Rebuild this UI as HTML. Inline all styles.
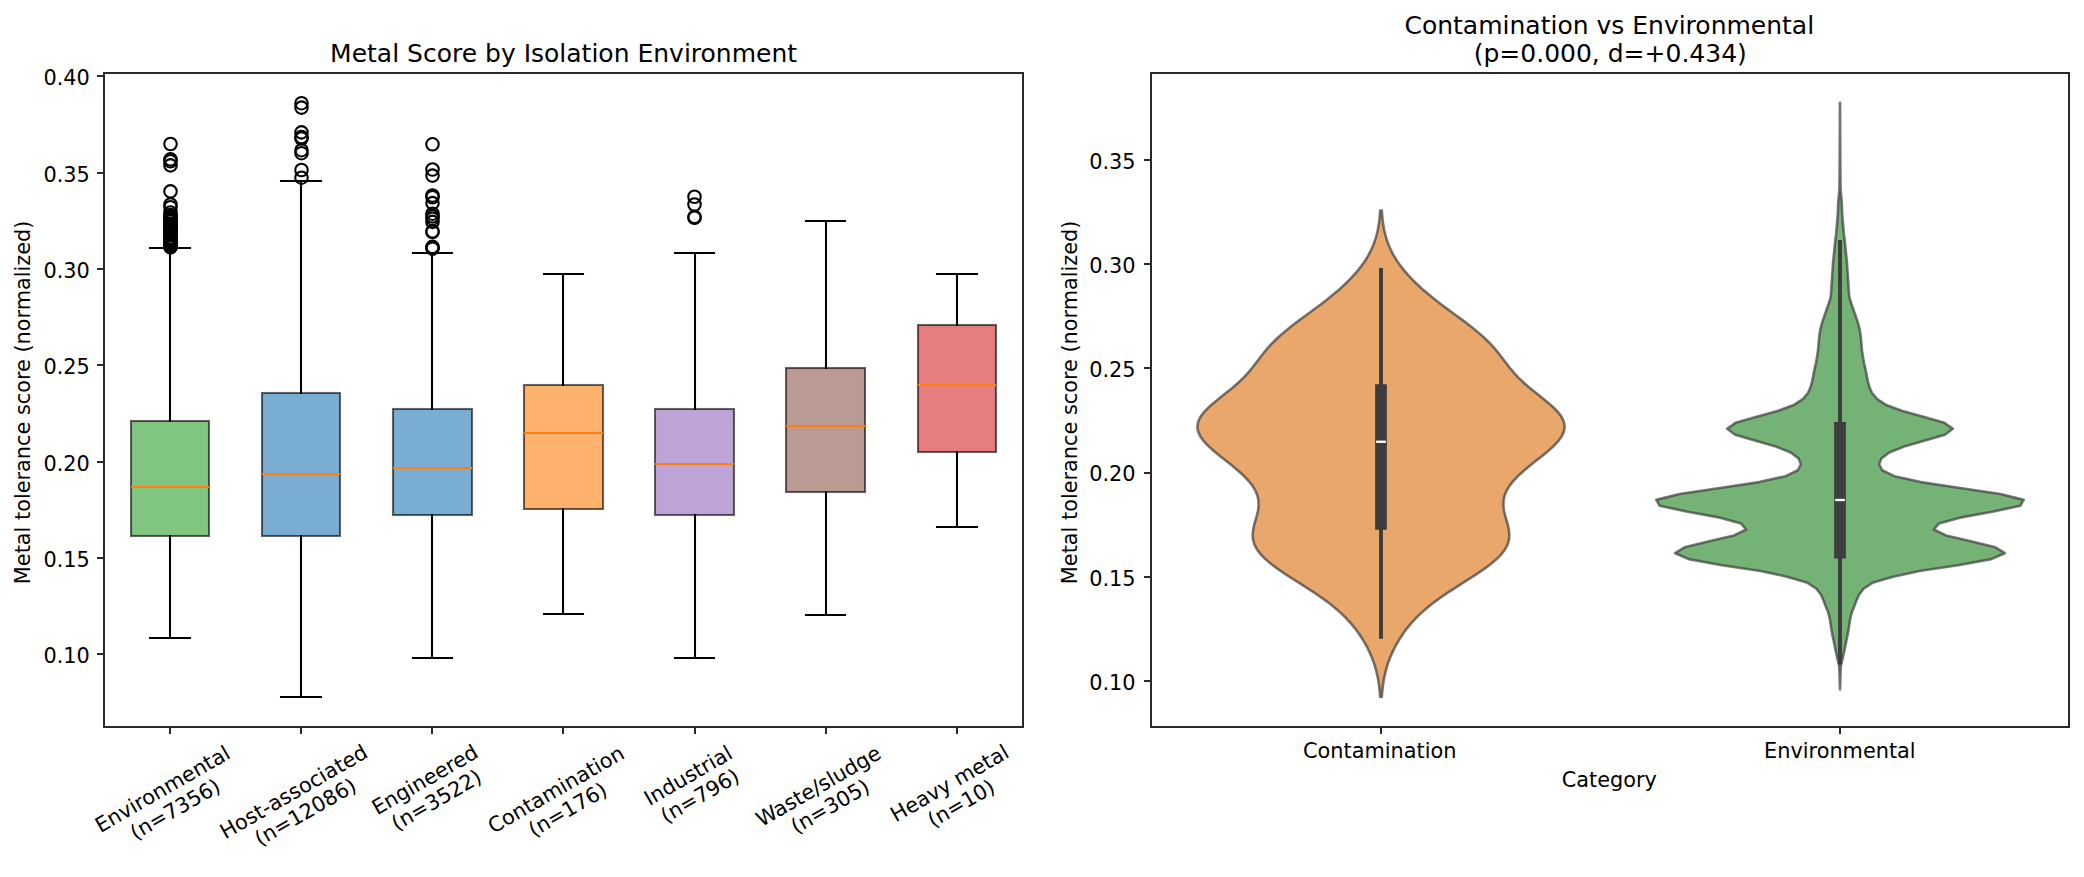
<!DOCTYPE html>
<html lang="en"><head><meta charset="utf-8"><title>Metal Score by Isolation Environment</title>
<style>html,body{margin:0;padding:0;background:#fff}svg{display:block}text{font-family:"DejaVu Sans","Liberation Sans",sans-serif;fill:#000}</style></head>
<body>
<svg width="2084" height="877" viewBox="0 0 2084 877">
<rect x="0" y="0" width="2084" height="877" fill="#fff"/>
<g id="left-axes">
<rect x="131" y="421" width="78" height="115" fill="#2ca02c" fill-opacity="0.6" stroke="#000" stroke-opacity="0.6" stroke-width="2.08"/>
<rect x="168.96" y="247" width="2.08" height="175" fill="#000"/>
<rect x="168.96" y="535" width="2.08" height="104" fill="#000"/>
<rect x="148.96" y="247" width="42.08" height="2" fill="#000"/>
<rect x="148.96" y="637" width="42.08" height="2" fill="#000"/>
<rect x="131" y="486" width="78" height="2" fill="#ff7f0e"/>
<g fill="none" stroke="#000" stroke-width="2.08"><circle cx="170.5" cy="144.00" r="6.25"/><circle cx="170.5" cy="159.40" r="6.25"/><circle cx="170.5" cy="161.30" r="6.25"/><circle cx="170.5" cy="165.40" r="6.25"/><circle cx="170.5" cy="191.40" r="6.25"/><circle cx="170.5" cy="204.50" r="6.25"/><circle cx="170.5" cy="207.20" r="6.25"/><circle cx="170.5" cy="212.50" r="6.25"/><circle cx="170.5" cy="215.00" r="6.25"/><circle cx="170.5" cy="216.07" r="6.25"/><circle cx="170.5" cy="217.14" r="6.25"/><circle cx="170.5" cy="218.21" r="6.25"/><circle cx="170.5" cy="219.28" r="6.25"/><circle cx="170.5" cy="220.35" r="6.25"/><circle cx="170.5" cy="221.42" r="6.25"/><circle cx="170.5" cy="223.90" r="6.25"/><circle cx="170.5" cy="225.00" r="6.25"/><circle cx="170.5" cy="226.10" r="6.25"/><circle cx="170.5" cy="227.20" r="6.25"/><circle cx="170.5" cy="228.30" r="6.25"/><circle cx="170.5" cy="229.40" r="6.25"/><circle cx="170.5" cy="230.50" r="6.25"/><circle cx="170.5" cy="231.60" r="6.25"/><circle cx="170.5" cy="232.70" r="6.25"/><circle cx="170.5" cy="233.80" r="6.25"/><circle cx="170.5" cy="234.90" r="6.25"/><circle cx="170.5" cy="237.50" r="6.25"/><circle cx="170.5" cy="238.60" r="6.25"/><circle cx="170.5" cy="239.70" r="6.25"/><circle cx="170.5" cy="240.80" r="6.25"/><circle cx="170.5" cy="241.90" r="6.25"/><circle cx="170.5" cy="243.00" r="6.25"/><circle cx="170.5" cy="244.10" r="6.25"/><circle cx="170.5" cy="245.20" r="6.25"/><circle cx="170.5" cy="246.30" r="6.25"/><circle cx="170.5" cy="247.40" r="6.25"/></g>
<rect x="262" y="393" width="78" height="143" fill="#1f77b4" fill-opacity="0.6" stroke="#000" stroke-opacity="0.6" stroke-width="2.08"/>
<rect x="299.96" y="180" width="2.08" height="214" fill="#000"/>
<rect x="299.96" y="535" width="2.08" height="163" fill="#000"/>
<rect x="279.96" y="180" width="42.08" height="2" fill="#000"/>
<rect x="279.96" y="696" width="42.08" height="2" fill="#000"/>
<rect x="262" y="473" width="78" height="2" fill="#ff7f0e"/>
<g fill="none" stroke="#000" stroke-width="2.08"><circle cx="301.5" cy="103.20" r="6.25"/><circle cx="301.5" cy="107.60" r="6.25"/><circle cx="301.5" cy="132.40" r="6.25"/><circle cx="301.5" cy="137.00" r="6.25"/><circle cx="301.5" cy="138.50" r="6.25"/><circle cx="301.5" cy="150.20" r="6.25"/><circle cx="301.5" cy="153.20" r="6.25"/><circle cx="301.5" cy="170.00" r="6.25"/><circle cx="301.5" cy="177.70" r="6.25"/></g>
<rect x="393" y="409" width="79" height="106" fill="#1f77b4" fill-opacity="0.6" stroke="#000" stroke-opacity="0.6" stroke-width="2.08"/>
<rect x="430.96" y="252" width="2.08" height="158" fill="#000"/>
<rect x="430.96" y="514" width="2.08" height="145" fill="#000"/>
<rect x="411.96" y="252" width="41.08" height="2" fill="#000"/>
<rect x="411.96" y="657" width="41.08" height="2" fill="#000"/>
<rect x="393" y="467" width="79" height="2" fill="#ff7f0e"/>
<g fill="none" stroke="#000" stroke-width="2.08"><circle cx="432.5" cy="144.30" r="6.25"/><circle cx="432.5" cy="169.50" r="6.25"/><circle cx="432.5" cy="175.60" r="6.25"/><circle cx="432.5" cy="195.50" r="6.25"/><circle cx="432.5" cy="197.30" r="6.25"/><circle cx="432.5" cy="203.10" r="6.25"/><circle cx="432.5" cy="213.70" r="6.25"/><circle cx="432.5" cy="216.40" r="6.25"/><circle cx="432.5" cy="218.70" r="6.25"/><circle cx="432.5" cy="221.90" r="6.25"/><circle cx="432.5" cy="231.20" r="6.25"/><circle cx="432.5" cy="232.00" r="6.25"/><circle cx="432.5" cy="246.80" r="6.25"/><circle cx="432.5" cy="247.60" r="6.25"/><circle cx="432.5" cy="248.60" r="6.25"/></g>
<rect x="524" y="385" width="79" height="124" fill="#ff7f0e" fill-opacity="0.6" stroke="#000" stroke-opacity="0.6" stroke-width="2.08"/>
<rect x="561.96" y="273" width="2.08" height="113" fill="#000"/>
<rect x="561.96" y="508" width="2.08" height="107" fill="#000"/>
<rect x="542.96" y="273" width="41.08" height="2" fill="#000"/>
<rect x="542.96" y="613" width="41.08" height="2" fill="#000"/>
<rect x="524" y="432" width="79" height="2" fill="#ff7f0e"/>
<rect x="655" y="409" width="79" height="106" fill="#9467bd" fill-opacity="0.6" stroke="#000" stroke-opacity="0.6" stroke-width="2.08"/>
<rect x="693.96" y="252" width="2.08" height="158" fill="#000"/>
<rect x="693.96" y="514" width="2.08" height="145" fill="#000"/>
<rect x="673.96" y="252" width="41.08" height="2" fill="#000"/>
<rect x="673.96" y="657" width="41.08" height="2" fill="#000"/>
<rect x="655" y="463" width="79" height="2" fill="#ff7f0e"/>
<g fill="none" stroke="#000" stroke-width="2.08"><circle cx="694.5" cy="196.75" r="6.25"/><circle cx="694.5" cy="204.50" r="6.25"/><circle cx="694.5" cy="216.80" r="6.25"/><circle cx="694.5" cy="217.80" r="6.25"/></g>
<rect x="786" y="368" width="79" height="124" fill="#8c564b" fill-opacity="0.6" stroke="#000" stroke-opacity="0.6" stroke-width="2.08"/>
<rect x="824.96" y="220" width="2.08" height="149" fill="#000"/>
<rect x="824.96" y="491" width="2.08" height="125" fill="#000"/>
<rect x="804.96" y="220" width="41.08" height="2" fill="#000"/>
<rect x="804.96" y="614" width="41.08" height="2" fill="#000"/>
<rect x="786" y="425" width="79" height="2" fill="#ff7f0e"/>
<rect x="918" y="325" width="78" height="127" fill="#d62728" fill-opacity="0.6" stroke="#000" stroke-opacity="0.6" stroke-width="2.08"/>
<rect x="955.96" y="273" width="2.08" height="53" fill="#000"/>
<rect x="955.96" y="451" width="2.08" height="77" fill="#000"/>
<rect x="935.96" y="273" width="42.08" height="2" fill="#000"/>
<rect x="935.96" y="526" width="42.08" height="2" fill="#000"/>
<rect x="918" y="384" width="78" height="2" fill="#ff7f0e"/>
<rect x="104" y="73" width="919" height="654" fill="none" stroke="#2a2a2a" stroke-width="2"/>
<rect x="169" y="727" width="2" height="7" fill="#2a2a2a"/><rect x="300" y="727" width="2" height="7" fill="#2a2a2a"/><rect x="431" y="727" width="2" height="7" fill="#2a2a2a"/><rect x="562" y="727" width="2" height="7" fill="#2a2a2a"/><rect x="694" y="727" width="2" height="7" fill="#2a2a2a"/><rect x="825" y="727" width="2" height="7" fill="#2a2a2a"/><rect x="956" y="727" width="2" height="7" fill="#2a2a2a"/><rect x="97" y="75" width="7" height="2" fill="#2a2a2a"/><rect x="97" y="172" width="7" height="2" fill="#2a2a2a"/><rect x="97" y="268" width="7" height="2" fill="#2a2a2a"/><rect x="97" y="364" width="7" height="2" fill="#2a2a2a"/><rect x="97" y="461" width="7" height="2" fill="#2a2a2a"/><rect x="97" y="557" width="7" height="2" fill="#2a2a2a"/><rect x="97" y="653" width="7" height="2" fill="#2a2a2a"/>
</g>
<g id="right-axes">
<path d="M1380.23 210.60 L1379.86 215.51 L1379.34 220.42 L1378.65 225.33 L1377.75 230.25 L1376.59 235.16 L1375.13 240.07 L1373.34 244.98 L1371.19 249.89 L1368.66 254.80 L1365.73 259.72 L1362.39 264.63 L1358.63 269.54 L1354.47 274.45 L1349.89 279.36 L1344.91 284.27 L1339.55 289.19 L1333.82 294.10 L1327.76 299.01 L1321.41 303.92 L1314.85 308.83 L1308.17 313.74 L1301.48 318.66 L1294.91 323.57 L1288.60 328.48 L1282.65 333.39 L1277.16 338.30 L1272.17 343.21 L1267.68 348.13 L1263.60 353.04 L1259.80 357.95 L1256.10 362.86 L1252.28 367.77 L1248.17 372.68 L1243.60 377.59 L1238.49 382.51 L1232.87 387.42 L1226.84 392.33 L1220.64 397.24 L1214.55 402.15 L1208.93 407.06 L1204.12 411.98 L1200.45 416.89 L1198.14 421.80 L1197.37 426.71 L1198.15 431.62 L1200.41 436.53 L1204.00 441.45 L1208.68 446.36 L1214.16 451.27 L1220.15 456.18 L1226.37 461.09 L1232.54 466.00 L1238.42 470.92 L1243.79 475.83 L1248.50 480.74 L1252.39 485.65 L1255.37 490.56 L1257.39 495.47 L1258.45 500.39 L1258.63 505.30 L1258.07 510.21 L1256.96 515.12 L1255.56 520.03 L1254.18 524.94 L1253.11 529.86 L1252.65 534.77 L1253.03 539.68 L1254.46 544.59 L1257.03 549.50 L1260.76 554.41 L1265.61 559.32 L1271.44 564.24 L1278.08 569.15 L1285.32 574.06 L1292.94 578.97 L1300.70 583.88 L1308.40 588.79 L1315.87 593.71 L1322.96 598.62 L1329.58 603.53 L1335.68 608.44 L1341.22 613.35 L1346.24 618.26 L1350.75 623.18 L1354.80 628.09 L1358.46 633.00 L1361.75 637.91 L1364.72 642.82 L1367.39 647.73 L1369.77 652.65 L1371.88 657.56 L1373.73 662.47 L1375.31 667.38 L1376.63 672.29 L1377.72 677.20 L1378.60 682.12 L1379.28 687.03 L1379.80 691.94 L1380.18 696.85 L1381.82 696.85 L1382.20 691.94 L1382.72 687.03 L1383.40 682.12 L1384.28 677.20 L1385.37 672.29 L1386.69 667.38 L1388.27 662.47 L1390.12 657.56 L1392.23 652.65 L1394.61 647.73 L1397.28 642.82 L1400.25 637.91 L1403.54 633.00 L1407.20 628.09 L1411.25 623.18 L1415.76 618.26 L1420.78 613.35 L1426.32 608.44 L1432.42 603.53 L1439.04 598.62 L1446.13 593.71 L1453.60 588.79 L1461.30 583.88 L1469.06 578.97 L1476.68 574.06 L1483.92 569.15 L1490.56 564.24 L1496.39 559.32 L1501.24 554.41 L1504.97 549.50 L1507.54 544.59 L1508.97 539.68 L1509.35 534.77 L1508.89 529.86 L1507.82 524.94 L1506.44 520.03 L1505.04 515.12 L1503.93 510.21 L1503.37 505.30 L1503.55 500.39 L1504.61 495.47 L1506.63 490.56 L1509.61 485.65 L1513.50 480.74 L1518.21 475.83 L1523.58 470.92 L1529.46 466.00 L1535.63 461.09 L1541.85 456.18 L1547.84 451.27 L1553.32 446.36 L1558.00 441.45 L1561.59 436.53 L1563.85 431.62 L1564.63 426.71 L1563.86 421.80 L1561.55 416.89 L1557.88 411.98 L1553.07 407.06 L1547.45 402.15 L1541.36 397.24 L1535.16 392.33 L1529.13 387.42 L1523.51 382.51 L1518.40 377.59 L1513.83 372.68 L1509.72 367.77 L1505.90 362.86 L1502.20 357.95 L1498.40 353.04 L1494.32 348.13 L1489.83 343.21 L1484.84 338.30 L1479.35 333.39 L1473.40 328.48 L1467.09 323.57 L1460.52 318.66 L1453.83 313.74 L1447.15 308.83 L1440.59 303.92 L1434.24 299.01 L1428.18 294.10 L1422.45 289.19 L1417.09 284.27 L1412.11 279.36 L1407.53 274.45 L1403.37 269.54 L1399.61 264.63 L1396.27 259.72 L1393.34 254.80 L1390.81 249.89 L1388.66 244.98 L1386.87 240.07 L1385.41 235.16 L1384.25 230.25 L1383.35 225.33 L1382.66 220.42 L1382.14 215.51 L1381.77 210.60 Z" fill="#e1812c" fill-opacity="0.7" stroke="#3d3d3d" stroke-opacity="0.7" stroke-width="2.6" stroke-linejoin="round"/>
<path d="M1839.95 102.83 L1839.93 108.76 L1839.91 114.68 L1839.89 120.61 L1839.86 126.53 L1839.84 132.46 L1839.81 138.39 L1839.79 144.31 L1839.76 150.24 L1839.72 156.16 L1839.69 162.09 L1839.65 168.02 L1839.61 173.94 L1839.56 179.87 L1839.48 185.79 L1839.32 191.72 L1838.67 197.65 L1838.17 203.57 L1837.97 209.50 L1837.70 215.42 L1837.22 221.35 L1836.71 227.28 L1836.23 233.20 L1835.43 239.13 L1834.79 245.05 L1834.26 250.98 L1833.65 256.91 L1833.04 262.83 L1832.68 268.76 L1832.26 274.68 L1831.85 280.61 L1831.48 286.54 L1831.18 292.46 L1830.40 298.39 L1828.40 304.31 L1826.40 310.24 L1824.30 316.17 L1822.30 322.09 L1820.60 328.02 L1819.60 333.94 L1818.90 339.87 L1818.50 345.80 L1817.80 351.72 L1816.90 357.65 L1815.80 363.57 L1814.50 369.50 L1813.25 375.43 L1812.20 381.35 L1810.50 387.28 L1807.90 393.20 L1802.80 399.13 L1793.70 405.06 L1777.46 410.98 L1755.76 416.91 L1735.59 422.83 L1727.11 428.76 L1735.17 434.69 L1754.83 440.61 L1775.84 446.54 L1790.80 452.46 L1798.53 458.39 L1800.89 464.32 L1797.85 470.24 L1785.53 476.17 L1759.15 482.09 L1719.89 488.02 L1679.62 493.95 L1656.29 499.87 L1659.78 505.80 L1687.69 511.72 L1720.12 517.65 L1741.15 523.58 L1746.13 529.50 L1734.05 535.43 L1709.17 541.35 L1684.56 547.28 L1675.14 553.21 L1688.85 559.13 L1720.49 565.06 L1760.46 570.98 L1788.00 576.91 L1807.50 582.84 L1816.50 588.76 L1821.00 594.69 L1823.60 600.61 L1825.80 606.54 L1828.30 612.47 L1829.70 618.39 L1830.70 624.32 L1831.55 630.24 L1832.70 636.17 L1833.90 642.10 L1835.10 648.02 L1836.40 653.95 L1837.75 659.87 L1839.15 665.80 L1839.50 671.73 L1839.65 677.65 L1839.80 683.58 L1839.95 689.50 L1840.05 689.50 L1840.20 683.58 L1840.35 677.65 L1840.50 671.73 L1840.85 665.80 L1842.25 659.87 L1843.60 653.95 L1844.90 648.02 L1846.10 642.10 L1847.30 636.17 L1848.45 630.24 L1849.30 624.32 L1850.30 618.39 L1851.70 612.47 L1854.20 606.54 L1856.40 600.61 L1859.00 594.69 L1863.50 588.76 L1872.50 582.84 L1892.00 576.91 L1919.54 570.98 L1959.51 565.06 L1991.15 559.13 L2004.86 553.21 L1995.44 547.28 L1970.83 541.35 L1945.95 535.43 L1933.87 529.50 L1938.85 523.58 L1959.88 517.65 L1992.31 511.72 L2020.22 505.80 L2023.71 499.87 L2000.38 493.95 L1960.11 488.02 L1920.85 482.09 L1894.47 476.17 L1882.15 470.24 L1879.11 464.32 L1881.47 458.39 L1889.20 452.46 L1904.16 446.54 L1925.17 440.61 L1944.83 434.69 L1952.89 428.76 L1944.41 422.83 L1924.24 416.91 L1902.54 410.98 L1886.30 405.06 L1877.20 399.13 L1872.10 393.20 L1869.50 387.28 L1867.80 381.35 L1866.75 375.43 L1865.50 369.50 L1864.20 363.57 L1863.10 357.65 L1862.20 351.72 L1861.50 345.80 L1861.10 339.87 L1860.40 333.94 L1859.40 328.02 L1857.70 322.09 L1855.70 316.17 L1853.60 310.24 L1851.60 304.31 L1849.60 298.39 L1848.82 292.46 L1848.52 286.54 L1848.15 280.61 L1847.74 274.68 L1847.32 268.76 L1846.96 262.83 L1846.35 256.91 L1845.74 250.98 L1845.21 245.05 L1844.57 239.13 L1843.77 233.20 L1843.29 227.28 L1842.78 221.35 L1842.30 215.42 L1842.03 209.50 L1841.83 203.57 L1841.33 197.65 L1840.68 191.72 L1840.52 185.79 L1840.44 179.87 L1840.39 173.94 L1840.35 168.02 L1840.31 162.09 L1840.28 156.16 L1840.24 150.24 L1840.21 144.31 L1840.19 138.39 L1840.16 132.46 L1840.14 126.53 L1840.11 120.61 L1840.09 114.68 L1840.07 108.76 L1840.05 102.83 Z" fill="#3a923a" fill-opacity="0.7" stroke="#3d3d3d" stroke-opacity="0.7" stroke-width="2.6" stroke-linejoin="round"/>
<rect x="1379.05" y="268.00" width="3.9" height="370.75" fill="#3d3d3d"/><rect x="1375.14" y="384.25" width="11.72" height="145.50" fill="#3d3d3d"/><rect x="1376.12" y="440.58" width="9.77" height="2.34" fill="#fff"/>
<rect x="1838.05" y="240.00" width="3.9" height="424.50" fill="#3d3d3d"/><rect x="1834.14" y="422.00" width="11.72" height="136.50" fill="#3d3d3d"/><rect x="1835.12" y="498.83" width="9.77" height="2.34" fill="#fff"/>
<rect x="1151" y="73" width="918" height="654" fill="none" stroke="#2a2a2a" stroke-width="2"/>
<rect x="1380" y="727" width="2" height="7" fill="#2a2a2a"/><rect x="1839" y="727" width="2" height="7" fill="#2a2a2a"/><rect x="1144" y="159" width="7" height="2" fill="#2a2a2a"/><rect x="1144" y="263" width="7" height="2" fill="#2a2a2a"/><rect x="1144" y="367" width="7" height="2" fill="#2a2a2a"/><rect x="1144" y="472" width="7" height="2" fill="#2a2a2a"/><rect x="1144" y="576" width="7" height="2" fill="#2a2a2a"/><rect x="1144" y="680" width="7" height="2" fill="#2a2a2a"/>
</g>
<g id="labels">
<text font-size="20.833" transform="translate(100.47 833.13) rotate(-30)">Environmental</text>
<text font-size="20.833" transform="translate(135.49 840.43) rotate(-30)">(n=7356)</text>
<text font-size="20.833" transform="translate(225.23 839.54) rotate(-30)">Host-associated</text>
<text font-size="20.833" transform="translate(259.93 846.45) rotate(-30)">(n=12086)</text>
<text font-size="20.833" transform="translate(377.21 815.53) rotate(-30)">Engineered</text>
<text font-size="20.833" transform="translate(396.85 831.13) rotate(-30)">(n=3522)</text>
<text font-size="20.833" transform="translate(493.22 834.04) rotate(-30)">Contamination</text>
<text font-size="20.833" transform="translate(533.77 837.57) rotate(-30)">(n=176)</text>
<text font-size="20.833" transform="translate(649.51 806.20) rotate(-30)">Industrial</text>
<text font-size="20.833" transform="translate(665.95 823.65) rotate(-30)">(n=796)</text>
<text font-size="20.833" transform="translate(761.38 827.35) rotate(-30)">Waste/sludge</text>
<text font-size="20.833" transform="translate(796.13 834.22) rotate(-30)">(n=305)</text>
<text font-size="20.833" transform="translate(895.87 822.53) rotate(-30)">Heavy metal</text>
<text font-size="20.833" transform="translate(933.05 828.00) rotate(-30)">(n=10)</text>
<text font-size="20.833" text-anchor="end" x="89.88" y="663.36">0.10</text>
<text font-size="20.833" text-anchor="end" x="89.88" y="567.06">0.15</text>
<text font-size="20.833" text-anchor="end" x="89.88" y="470.76">0.20</text>
<text font-size="20.833" text-anchor="end" x="89.88" y="374.46">0.25</text>
<text font-size="20.833" text-anchor="end" x="89.88" y="278.15">0.30</text>
<text font-size="20.833" text-anchor="end" x="89.88" y="181.85">0.35</text>
<text font-size="20.833" text-anchor="end" x="89.88" y="84.55">0.40</text>
<text font-size="20.833" text-anchor="middle" transform="translate(29.83 402.34) rotate(-90)">Metal tolerance score (normalized)</text>
<text font-size="25.000" text-anchor="middle" x="563.60" y="62.13">Metal Score by Isolation Environment</text>
<text font-size="20.833" text-anchor="middle" x="1379.73" y="758.47">Contamination</text>
<text font-size="20.833" text-anchor="middle" x="1839.86" y="758.47">Environmental</text>
<text font-size="20.833" text-anchor="middle" x="1609.29" y="786.96">Category</text>
<text font-size="20.833" text-anchor="end" x="1135.58" y="690.30">0.10</text>
<text font-size="20.833" text-anchor="end" x="1135.58" y="586.01">0.15</text>
<text font-size="20.833" text-anchor="end" x="1135.58" y="480.73">0.20</text>
<text font-size="20.833" text-anchor="end" x="1135.58" y="377.45">0.25</text>
<text font-size="20.833" text-anchor="end" x="1135.58" y="273.17">0.30</text>
<text font-size="20.833" text-anchor="end" x="1135.58" y="168.89">0.35</text>
<text font-size="20.833" text-anchor="middle" transform="translate(1076.52 402.34) rotate(-90)">Metal tolerance score (normalized)</text>
<text font-size="25.000" x="1404.46" y="34.14">Contamination vs Environmental</text>
<text font-size="25.000" x="1473.73" y="62.13">(p=0.000, d=+0.434)</text>
</g>
</svg>
</body></html>
